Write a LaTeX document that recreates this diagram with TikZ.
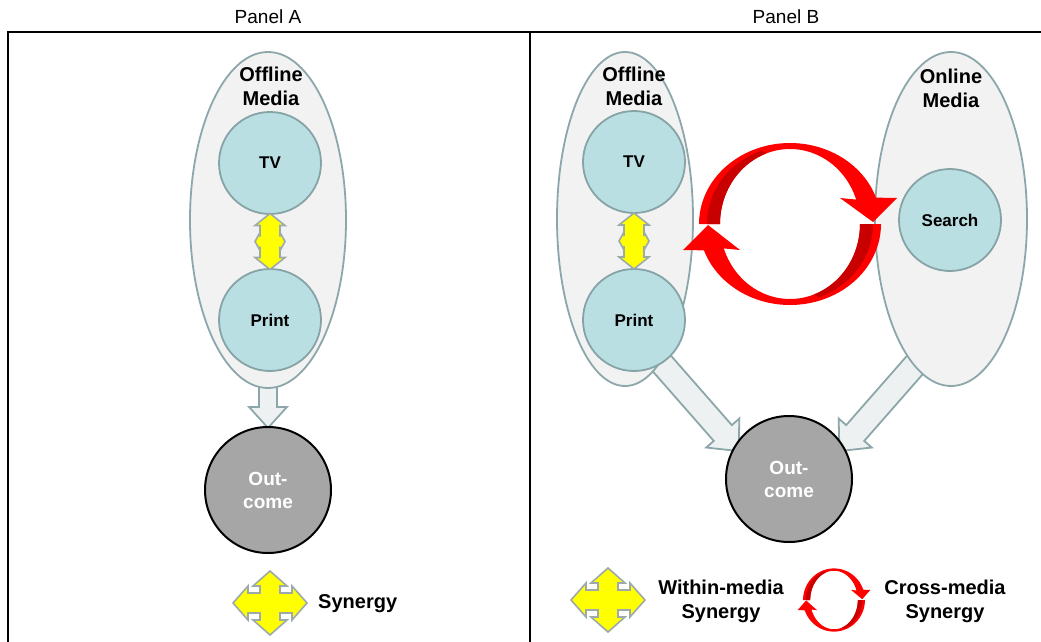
\documentclass[tikz,border=0pt]{standalone}
\usepackage{fontspec}
\setmainfont{Liberation Sans}
\usetikzlibrary{shapes.geometric,calc,backgrounds}
\definecolor{ellfill}{HTML}{F2F2F2}
\definecolor{ellline}{HTML}{8CA7AA}
\definecolor{circfill}{HTML}{B9DFE3}
\definecolor{circline}{HTML}{86A3A6}
\definecolor{outfill}{HTML}{A6A6A6}
\definecolor{arrfill}{HTML}{EEF1F1}
\definecolor{yelfill}{HTML}{FFFF00}
\definecolor{yelline}{HTML}{9DAAAC}
\definecolor{ringred}{HTML}{FF0000}
\definecolor{ringdark}{HTML}{C80000}

\newcommand\quadarr[8]{%
 \draw[yel] (0,-#2) -- (#4,{-#2+#3}) -- (#5,{-#2+#3}) -- (#5,-#8) -- ({#1-#6},-#8) -- ({#1-#6},-#7) -- (#1,0) -- ({#1-#6},#7) -- ({#1-#6},#8) -- (#5,#8) -- (#5,{#2-#3}) -- (#4,{#2-#3}) -- (0,#2) -- (-#4,{#2-#3}) -- (-#5,{#2-#3}) -- (-#5,#8) -- ({-#1+#6},#8) -- ({-#1+#6},#7) -- (-#1,0) -- ({-#1+#6},-#7) -- ({-#1+#6},-#8) -- (-#5,-#8) -- (-#5,{-#2+#3}) -- (-#4,{-#2+#3}) -- cycle;}

\newcommand\redring{%
 \fill[ringred] plot[domain=180:341,samples=60] ({91*cos(\x)},{81*sin(\x)}) -- (107,-26) -- (83,-2) -- (50,-26) -- plot[domain=341:180,samples=60] ({70*cos(\x)},{75*sin(\x)}) -- cycle;
 \fill[ringdark] plot[domain=180:250,samples=30] ({83*cos(\x)},{78*sin(\x)}) -- plot[domain=250:180,samples=30] ({70*cos(\x)},{75*sin(\x)}) -- cycle;
 \fill[ringred] plot[domain=0:161,samples=60] ({91*cos(\x)},{81*sin(\x)}) -- (-107,26) -- (-82,1) -- (-50,26) -- plot[domain=161:0,samples=60] ({70*cos(\x)},{75*sin(\x)}) -- cycle;
 \fill[ringdark] plot[domain=0:70,samples=30] ({83*cos(\x)},{78*sin(\x)}) -- plot[domain=70:0,samples=30] ({70*cos(\x)},{75*sin(\x)}) -- cycle;}

\newcommand\harr[5]{%
 \coordinate (hb) at ($(#2)!#5!(#1)$);
 \draw[hollow] ($(#1)!#3!90:(#2)$) -- ($(hb)!#3!90:(#2)$) -- ($(hb)!#4!90:(#2)$) -- (#2) -- ($(hb)!#4!-90:(#2)$) -- ($(hb)!#3!-90:(#2)$) -- ($(#1)!#3!-90:(#2)$) -- cycle;}

\begin{document}
\begin{tikzpicture}[x=1pt,y=-1pt,
 ell/.style={ellipse, draw=ellline, fill=ellfill, line width=1.8pt, inner sep=0pt},
 medcirc/.style={circle, draw=circline, fill=circfill, line width=1.8pt, minimum size=102pt, inner sep=0pt, font=\fontsize{17}{20}\selectfont\bfseries},
 outc/.style={circle, draw=black, fill=outfill, line width=2pt, minimum size=126pt, inner sep=0pt, text=white, align=center, font=\fontsize{19}{23}\selectfont\bfseries},
 lbl/.style={align=center, inner sep=0pt, font=\fontsize{20}{24}\selectfont\bfseries},
 paneltitle/.style={inner sep=0pt, font=\fontsize{19}{22}\selectfont},
 hollow/.style={draw=ellline, fill=arrfill, line width=1.8pt, line join=miter},
 yel/.style={draw=yelline, fill=yelfill, line width=1.6pt},
 frame/.style={line width=2pt, draw=black}]
\useasboundingbox (0,0) rectangle (1041,642);

% frame
\node[paneltitle] (tA) at (268,17) {Panel A};
\node[paneltitle] (tB) at (786,17) {Panel B};
\draw[frame] (8,660) -- (8,32) -- (1060,32);
\draw[frame] (530,32) -- (530,660);

% Panel A
\node[ell, minimum width=156pt, minimum height=336pt] (offA) at (268,220) {};
\node[lbl] (offAl) at (271,86) {Offline\\Media};
\node[medcirc] (tvA) at (270,163) {TV};
\node[medcirc] (prA) at (270,320) {Print};
\node[outc] (outA) at (268,490) {Out-\\come};
\begin{scope}[shift={($(tvA)!0.5!(prA)$)}]
 \quadarr{15}{28}{12}{15}{10}{5}{9}{5}
\end{scope}

% Panel B
\node[ell, minimum width=136pt, minimum height=334pt] (offB) at (625,219) {};
\node[ell, minimum width=152pt, minimum height=334pt] (onB) at (951,219) {};
\node[lbl] (offBl) at (634,86) {Offline\\Media};
\node[lbl] (onBl) at (951,88) {Online\\Media};
\node[medcirc] (tvB) at (634,162) {TV};
\node[medcirc] (prB) at (634,320) {Print};
\node[medcirc] (seB) at (950,220) {Search};
\node[outc] (outB) at (789,479) {Out-\\come};
\begin{scope}[shift={($(tvB)!0.5!(prB)$)}]
 \quadarr{15}{28}{12}{15}{10}{5}{9}{5}
\end{scope}
\begin{scope}[shift={(790,224)}]
 \redring
\end{scope}

% hollow arrows (behind the ellipses and outcome circles)
\begin{pgfonlayer}{background}
 \fill[white] (0,0) rectangle (1041,642);
 \coordinate (sA) at (268,360);
 \coordinate (tipA) at ($(outA.center)!0.97!(outA.north)$);
 \harr{sA}{tipA}{9pt}{19pt}{21pt}
 \coordinate (sB1) at (650,350);
 \coordinate (tipB1) at ($(outB.center)!0.9!(outB.151)$);
 \harr{sB1}{tipB1}{12pt}{22pt}{24pt}
 \coordinate (sB2) at (928,350);
 \coordinate (tipB2) at ($(outB.center)!0.9!(outB.29)$);
 \harr{sB2}{tipB2}{12pt}{22pt}{24pt}
\end{pgfonlayer}

% legends
\begin{scope}[shift={(270,603)}]
 \quadarr{37}{32}{15}{17}{10}{15}{17}{10}
\end{scope}
\node[lbl, anchor=west] (synA) at (318,604) {Synergy};
\begin{scope}[shift={(608,600)}]
 \quadarr{37}{32}{15}{17}{10}{15}{17}{10}
\end{scope}
\node[lbl] (withinB) at (721,601) {Within-media\\Synergy};
\begin{scope}[shift={(834,600)}, xscale=0.34, yscale=0.39]
 \redring
\end{scope}
\node[lbl] (crossB) at (945,601) {Cross-media\\Synergy};
\end{tikzpicture}
\end{document}
